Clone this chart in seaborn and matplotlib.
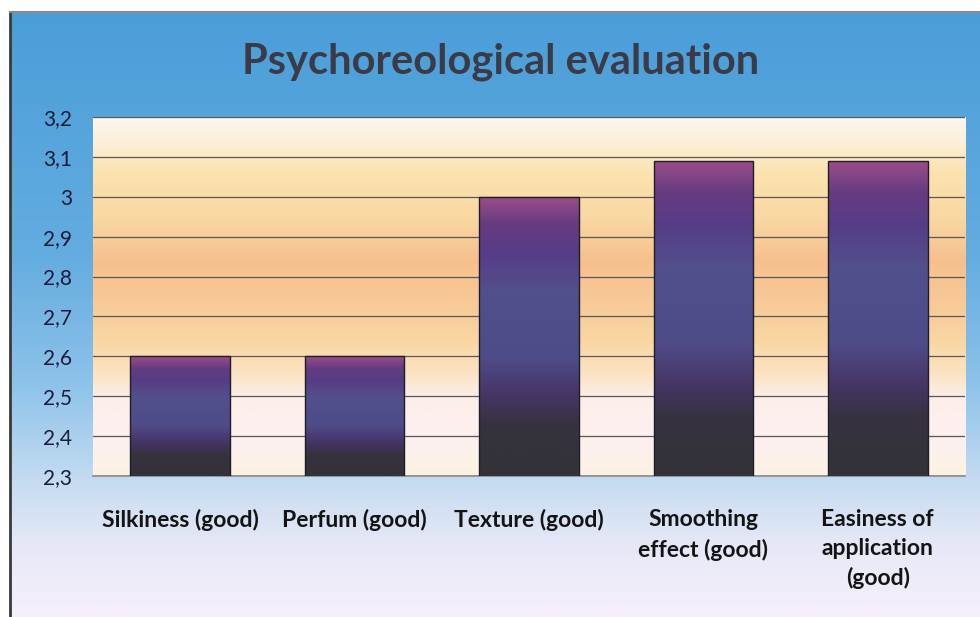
import numpy as np
import matplotlib
matplotlib.use("Agg")
import matplotlib.pyplot as plt
from matplotlib.colors import LinearSegmentedColormap
from matplotlib.ticker import FuncFormatter, MultipleLocator
import seaborn as sns

categories = ["Silkiness (good)", "Perfum (good)", "Texture (good)",
              "Smoothing\neffect (good)", "Easiness of\napplication\n(good)"]
values = [2.6, 2.6, 3.0, 3.09, 3.09]
y_min, y_max, y_step = 2.3, 3.2, 0.1
title = "Psychoreological evaluation"

sns.set_theme(style="white")
plt.rcParams['font.family'] = ['Lato', 'DejaVu Sans']

fig = plt.figure(figsize=(9.8, 6.17), dpi=100)
fig.patch.set_facecolor("white")

# outer frame with blue -> lavender gradient
bg = fig.add_axes([10/980, 0, 1 - 10/980, 1 - 12/617], zorder=0)
bg_cmap = LinearSegmentedColormap.from_list("bg", [
    (0.0, "#4a9ed8"), (0.4, "#63ace0"), (0.62, "#8fc3ea"),
    (0.78, "#c6dcf1"), (0.88, "#e6e8f7"), (1.0, "#f6f0fa")])
bg.imshow(np.linspace(0, 1, 256).reshape(-1, 1), aspect="auto", cmap=bg_cmap,
          extent=[0, 1, 0, 1], origin="upper")
bg.set_xlim(0, 1); bg.set_ylim(0, 1)
bg.set_xticks([]); bg.set_yticks([])
for s in ["right", "bottom"]:
    bg.spines[s].set_visible(False)
bg.spines["left"].set_color("#3a3a3a"); bg.spines["left"].set_linewidth(2)
bg.spines["top"].set_color("#8a8a8a"); bg.spines["top"].set_linewidth(1.5)

ax = fig.add_axes([93/980, 1 - 476/617, (965 - 93)/980, (476 - 117)/617], zorder=1)
ax.patch.set_alpha(0)

sns.barplot(x=categories, y=values, ax=ax, width=0.57, color="#4f4f8a",
            edgecolor="#1e1e28", linewidth=1.0, zorder=3)
ax.set_ylim(y_min, y_max)
xl = ax.get_xlim()

# plot area gradient
area_cmap = LinearSegmentedColormap.from_list("area", [
    (0.0, "#fdf3e2"), (0.1, "#fcf0f0"), (0.22, "#fcefea"), (0.28, "#fbe4c4"),
    (0.38, "#f9d6a2"), (0.5, "#f7c896"), (0.6, "#f6c08e"), (0.72, "#f9d8a2"),
    (0.85, "#fbe3b0"), (0.93, "#fcefd8"), (1.0, "#fdf7f0")])
ax.imshow(np.linspace(0, 1, 256).reshape(-1, 1), aspect="auto", cmap=area_cmap,
          extent=[xl[0], xl[1], y_min, y_max], origin="lower", zorder=0)
ax.set_xlim(xl)

# bar gradient clipped to each bar
bar_cmap = LinearSegmentedColormap.from_list("bar", [
    (0.0, "#323238"), (0.18, "#36323e"), (0.3, "#47366a"), (0.42, "#4e4c88"),
    (0.65, "#52508c"), (0.8, "#563d86"), (0.9, "#663b80"), (1.0, "#9c4e8a")])
for p in ax.patches:
    x0, w, h = p.get_x(), p.get_width(), p.get_height()
    im = ax.imshow(np.linspace(0, 1, 256).reshape(-1, 1), aspect="auto", cmap=bar_cmap,
                   extent=[x0, x0 + w, y_min, h], origin="lower", zorder=3)
    im.set_clip_path(p)
    p.set_facecolor("none")
    p.set_zorder(4)
ax.set_xlim(xl)
ax.set_ylim(y_min, y_max)

ax.yaxis.set_major_locator(MultipleLocator(y_step))
ax.yaxis.set_major_formatter(FuncFormatter(lambda v, _: f"{round(v, 2):g}".replace(".", ",")))
ax.grid(axis="y", color="#5e5650", linewidth=0.9, zorder=1)
ax.set_axisbelow(False)
for line in ax.get_ygridlines():
    line.set_zorder(1)
for s in ["top", "right", "left"]:
    ax.spines[s].set_visible(False)
ax.spines["bottom"].set_color("#8a8a90")
ax.spines["bottom"].set_linewidth(1.2)
ax.tick_params(axis="y", labelsize=15, labelcolor="#1c1c3a", pad=15, length=0)
ax.tick_params(axis="x", labelsize=16.5, labelcolor="#141414", pad=24, length=0)
for t in ax.get_xticklabels():
    t.set_fontweight("bold")
    t.set_linespacing(1.45)
    t.set_verticalalignment("top")
ax.set_xlabel("")
ax.set_ylabel("")

fig.text(0.511, 0.9, title, ha="center", va="center", fontsize=30,
         fontweight="bold", color="#3b3b48")

fig.savefig("out.png", dpi=100)
